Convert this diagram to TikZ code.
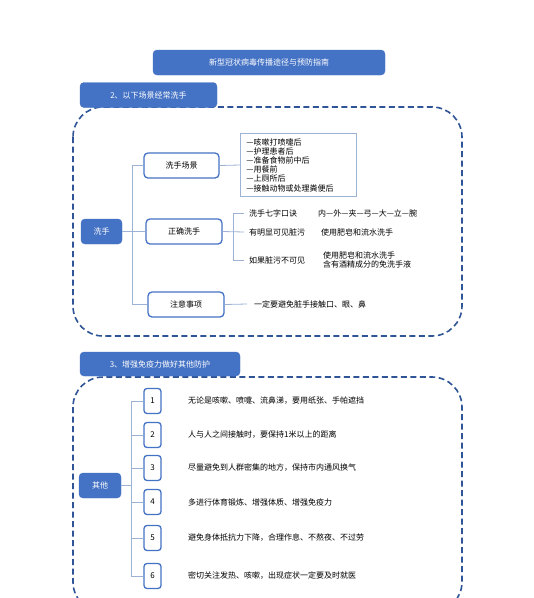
\documentclass[tikz,border=0pt]{standalone}
\usepackage{fontspec}
\setmainfont{Noto Sans CJK SC}
\usetikzlibrary{positioning, calc}
\definecolor{headblue}{RGB}{68,114,196}
\definecolor{frameblue}{RGB}{47,85,151}
\definecolor{linkblue}{RGB}{157,179,214}

\tikzset{
  head/.style={fill=headblue, draw=headblue, rounded corners=4pt, text=white, inner sep=0pt},
  branch/.style={draw=headblue, line width=1.3pt, rounded corners=4pt, fill=white, minimum width=75pt, minimum height=25pt, inner sep=0pt},
  numbox/.style={draw=headblue, line width=1.3pt, rounded corners=3pt, fill=white, minimum width=17pt, minimum height=25pt, inner sep=0pt},
  frame/.style={draw=frameblue, line width=1.6pt, dash pattern=on 6pt off 3.5pt, rounded corners=30pt},
  link/.style={draw=linkblue, line width=0.8pt},
  leaf/.style={anchor=west, inner xsep=5pt, inner ysep=0pt, align=left}
}

\begin{document}
\begin{tikzpicture}[x=1pt, y=-1pt, font=\fontsize{8}{9.2}\selectfont]
        \clip (0,0) rectangle (534,598);
        \fill[white] (0,0) rectangle (534,598);

        % Title
        \node[head, minimum width=232pt, minimum height=25pt] (title) at (269,62.5) {新型冠状病毒传播途径与预防指南};

        % Section 2 frame
        \draw[frame] (73,107) rectangle (462,336);
        \node[head, minimum width=137pt, minimum height=25pt] (sec2) at (148.5,95) {2、以下场景经常洗手};

        \node[head, minimum width=41pt, minimum height=25pt] (xishou) at (101.5,231.5) {洗手};
        \node[branch] (scene) at (181.5,165.5) {洗手场景};
        \node[branch, minimum width=76pt] (method) at (184,231.5) {正确洗手};
        \node[branch, minimum width=76pt] (notice) at (186,304.5) {注意事项};

        \draw[link] (xishou.east) -- (method.west);
        \draw[link] (scene.west) -- ++(-11,0) |- (notice.west);

        % Scene list
        \node[draw=linkblue, line width=0.8pt, anchor=west, align=left, text width=104pt, inner xsep=6pt, inner ysep=5pt] (list) at (240,165)
            {—咳嗽打喷嚏后\\—护理患者后\\—准备食物前中后\\—用餐前\\—上厕所后\\—接触动物或处理粪便后};
        \draw[link] (scene.east) -- (list.west);

        % Correct washing
        \node[leaf] (key1) at (244,213) {洗手七字口诀};
        \node[leaf] (key2) at (244,232) {有明显可见脏污};
        \node[leaf] (key3) at (244,260) {如果脏污不可见};
        \node[leaf, inner xsep=0pt] (val1) at (318,213) {内—外—夹—弓—大—立—腕};
        \node[leaf, inner xsep=0pt] (val2) at (321,232) {使用肥皂和流水洗手};
        \node[leaf, inner xsep=0pt] (val3) at (323,260) {使用肥皂和流水洗手\\含有酒精成分的免洗手液};
        \draw[link] (method.east) -- (key2.west);
        \draw[link] (key1.west) -- ++(-11,0) |- (key3.west);

        % Notice
        \node[leaf, inner xsep=7pt] (note) at (247,304) {一定要避免脏手接触口、眼、鼻};
        \draw[link] (notice.east) -- (note.west);

        % Section 3 frame
        \draw[frame] (73,377) rectangle (462,612);
        \node[head, minimum width=160pt, minimum height=24pt] (sec3) at (160,364) {3、增强免疫力做好其他防护};

        \node[head, minimum width=42pt, minimum height=25pt] (qita) at (100,485.5) {其他};

        \foreach \i/\y/\t in {1/401/{无论是咳嗽、喷嚏、流鼻涕，要用纸张、手帕遮挡},
                              2/435/{人与人之间接触时，要保持1米以上的距离},
                              3/468/{尽量避免到人群密集的地方，保持市内通风换气},
                              4/502/{多进行体育锻炼、增强体质、增强免疫力},
                              5/538/{避免身体抵抗力下降，合理作息、不熬夜、不过劳},
                              6/576/{密切关注发热、咳嗽，出现症状一定要及时就医}} {
            \node[numbox] (num\i) at (152.5,\y) {\i};
            \node[leaf, inner xsep=0pt] (item\i) at (188,\y) {\t};
            \draw[link] (num\i.west) -- ++(-12,0);
        }
        \draw[link] (num1.west) -- ++(-12,0) |- (num6.west);
        \draw[link] (qita.east) -- ($(qita.east -| num1.west)+(-12,0)$);

    \end{tikzpicture}
\end{document}
